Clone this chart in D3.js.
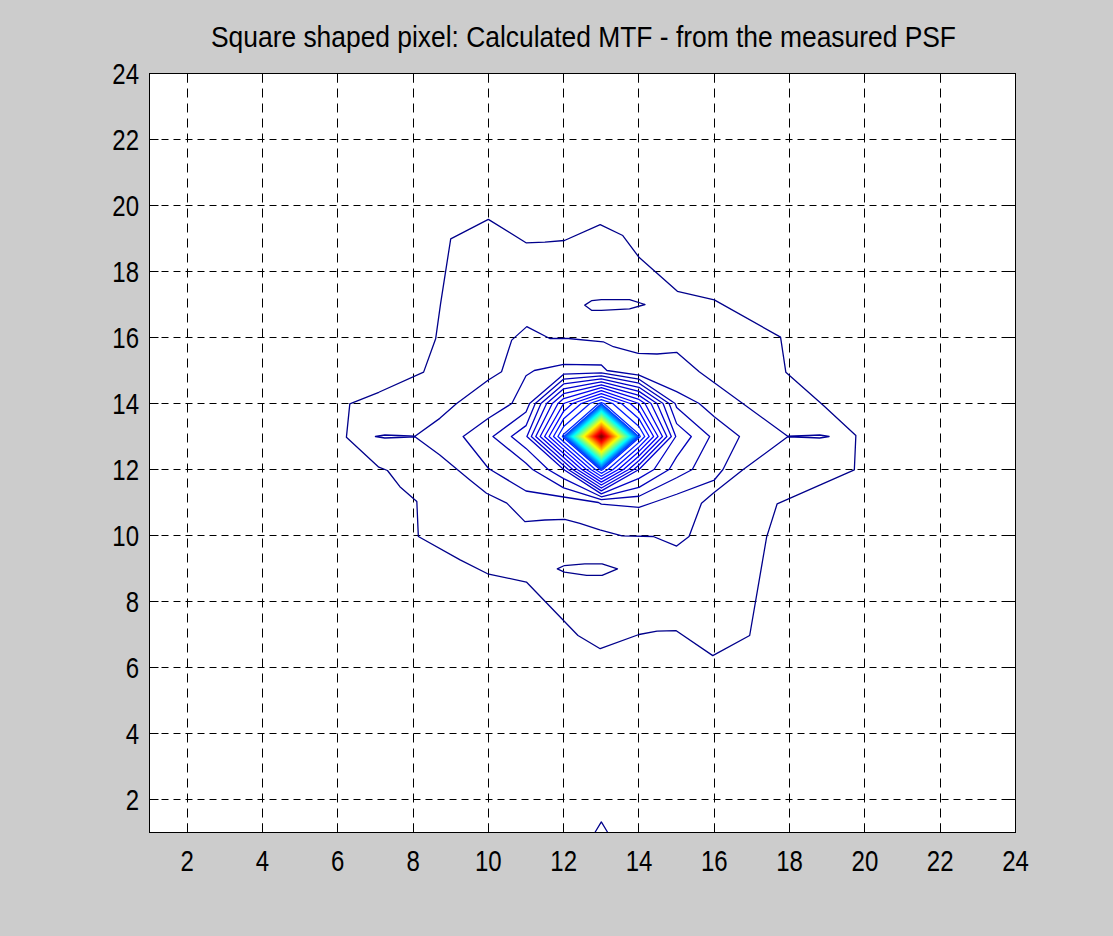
<!DOCTYPE html>
<html>
<head>
<meta charset="utf-8">
<script src="https://cdn.jsdelivr.net/npm/d3@7"></script>
<style>
  html, body { margin: 0; padding: 0; background: #cccccc; }
  svg { display: block; }
  text { font-family: "Liberation Sans", Arial, sans-serif; fill: #000; }
</style>
</head>
<body>
<svg id="chart" width="1113" height="936"></svg>
<script>
// ---- labels and ticks ----
const titleText = "Square shaped pixel: Calculated MTF - from the measured PSF";
const xTicks = [2, 4, 6, 8, 10, 12, 14, 16, 18, 20, 22, 24];
const yTicks = [2, 4, 6, 8, 10, 12, 14, 16, 18, 20, 22, 24];
const xDomain = [1, 24];
const yDomain = [1, 24];

// ---- lowest contour level (1): outer outline, two dips inside it, bump on the lower edge ----
const level1Outer = [
  [9.0, 18.99], [10.0, 19.58], [11.0, 18.87], [11.5, 18.89], [12.02, 18.94], [12.97, 19.42],
  [13.57, 19.09], [14.0, 18.43], [15.02, 17.4], [16.0, 17.14], [17.76, 16.01], [17.9, 14.95],
  [18.9, 13.94], [19.76, 13.03], [19.72, 11.99], [17.67, 10.96], [17.39, 9.95], [16.94, 6.97],
  [15.96, 6.36], [14.98, 7.12], [14.48, 7.1], [14.0, 7.0], [12.97, 6.57], [12.38, 6.97],
  [11.01, 8.59], [9.98, 8.84], [9.25, 9.26], [8.14, 9.97], [8.1, 11.03], [7.65, 11.48],
  [7.32, 11.97], [7.09, 12.07], [6.23, 12.98], [6.32, 13.99], [7.09, 14.34], [8.28, 14.95],
  [8.6, 15.96], [8.73, 17.02]
];
const level1UpperDip = [
  [12.56, 16.98], [12.75, 17.12], [13.0, 17.15], [13.75, 17.15], [14.16, 17.0],
  [13.75, 16.87], [13.0, 16.82], [12.75, 16.82]
];
const level1LowerDip = [
  [11.83, 8.99], [12.02, 9.09], [12.56, 9.14], [13.02, 9.14], [13.43, 8.99],
  [13.02, 8.79], [12.61, 8.79], [12.02, 8.89]
];
const level1EdgeBump = [[12.83, 1.0], [13.0, 1.32], [13.17, 1.0]];

// ---- contour level 2, with its thin spurs along y = 13 ----
const level2Outline = [
  [7.0, 13.0], [7.25, 13.045], [7.6, 13.03], [8.05, 13.01], [8.71, 13.55], [9.15, 13.99],
  [10.0, 14.71], [10.35, 14.96], [10.62, 15.92], [11.02, 16.33], [11.63, 15.97], [12.12, 15.97],
  [13.05, 15.87], [13.32, 15.72], [13.98, 15.52], [14.48, 15.5], [15.0, 15.55], [15.6, 14.96],
  [17.95, 13.01], [18.5, 13.03], [18.8, 13.045], [19.05, 13.0], [18.8, 12.955], [18.5, 12.97],
  [17.95, 12.99], [16.76, 11.99], [15.97, 11.28], [15.66, 10.98], [15.33, 9.97], [15.0, 9.68],
  [14.38, 9.97], [13.55, 9.99], [12.96, 10.17], [12.43, 10.37], [12.03, 10.49], [11.5, 10.47],
  [10.97, 10.42], [10.49, 10.98], [9.95, 11.28], [9.51, 11.68], [8.71, 12.44], [8.05, 12.99],
  [7.6, 12.97], [7.25, 12.955]
];

// ---- central samples (in contour-level units), rows y = 17 .. 9, columns x = 8 .. 18 ----
const coreX = [8, 9, 10, 11, 12, 13, 14, 15, 16, 17, 18];
const coreY = [17, 16, 15, 14, 13, 12, 11, 10, 9];
const coreRows = [
  [1.0, 1.4, 1.7, 1.8, 1.6, 0.8, 1.6, 1.8, 1.7, 1.4, 1.0],
  [1.5, 2.0, 2.2, 2.4, 1.9, 2.0, 2.2, 2.4, 2.3, 1.8, 1.4],
  [1.8, 2.2, 2.6, 2.93, 3.25, 3.2, 1.86, 1.67, 2.0, 1.8, 1.6],
  [1.9, 2.3, 2.39, 3.37, 10.0, 14.3, 10.0, 3.75, 2.5, 2.2, 1.9],
  [2.05, 2.63, 3.75, 5.8, 14.3, 86.0, 14.3, 5.8, 3.75, 2.63, 2.05],
  [1.9, 2.2, 2.97, 3.58, 6.0, 14.3, 7.0, 4.5, 3.3, 2.0, 1.9],
  [1.6, 1.9, 2.3, 2.69, 2.4, 3.05, 3.3, 2.5, 2.36, 1.9, 1.5],
  [1.2, 1.5, 1.8, 2.0, 2.2, 2.0, 1.3, 1.6, 1.8, 1.5, 1.2],
  [1.0, 1.2, 1.4, 1.5, 0.8, 0.9, 1.4, 1.5, 1.4, 1.2, 1.0]
];
// evenly spaced contour levels 1 .. 85; colours run over 0 .. 86
const levelCount = 85;
const colorMax = 86;

// ---- layout ----
const svg = d3.select("#chart");
const plot = { left: 149.5, right: 1015.5, top: 73.5, bottom: 832.5 };
const x = d3.scaleLinear().domain(xDomain).range([plot.left, plot.right]);
const y = d3.scaleLinear().domain(yDomain).range([plot.bottom, plot.top]);
const snap = v => Math.floor(v) + 0.5;

function jet(t) {
  const c = v => Math.max(0, Math.min(1, v));
  const r = c(1.5 - Math.abs(4 * t - 3));
  const g = c(1.5 - Math.abs(4 * t - 2));
  const b = c(1.5 - Math.abs(4 * t - 1));
  return d3.rgb(r * 255, g * 255, b * 255).formatHex();
}
const colorOf = k => jet(k / colorMax);

// plot background
svg.append("rect")
  .attr("x", plot.left).attr("y", plot.top)
  .attr("width", plot.right - plot.left).attr("height", plot.bottom - plot.top)
  .attr("fill", "#ffffff");

svg.append("clipPath").attr("id", "plot-clip")
  .append("rect")
  .attr("x", plot.left).attr("y", plot.top)
  .attr("width", plot.right - plot.left).attr("height", plot.bottom - plot.top);

// dashed grid
const grid = svg.append("g").attr("stroke", "#000").attr("stroke-width", 1).attr("fill", "none");
grid.selectAll("line.gx").data(xTicks.filter(t => t < xDomain[1])).join("line")
  .attr("class", "gx")
  .attr("x1", d => snap(x(d))).attr("x2", d => snap(x(d)))
  .attr("y1", plot.top).attr("y2", plot.bottom)
  .attr("stroke-dasharray", "9,6");
grid.selectAll("line.gy").data(yTicks.filter(t => t < yDomain[1])).join("line")
  .attr("class", "gy")
  .attr("y1", d => snap(y(d))).attr("y2", d => snap(y(d)))
  .attr("x1", plot.left).attr("x2", plot.right)
  .attr("stroke-dasharray", "7,5");

// contours
const contourLayer = svg.append("g").attr("clip-path", "url(#plot-clip)")
  .attr("fill", "none").attr("stroke-width", 1.3).attr("stroke-linejoin", "round");

const closedLine = d3.line().x(d => x(d[0])).y(d => y(d[1])).curve(d3.curveLinearClosed);
const openLine = d3.line().x(d => x(d[0])).y(d => y(d[1]));

[level1Outer, level1UpperDip, level1LowerDip].forEach(ring => {
  contourLayer.append("path").attr("d", closedLine(ring)).attr("stroke", colorOf(1));
});
contourLayer.append("path").attr("d", openLine(level1EdgeBump)).attr("stroke", colorOf(1));
contourLayer.append("path").attr("d", closedLine(level2Outline)).attr("stroke", colorOf(2));

const nx = coreX.length, ny = coreY.length;
const coreValues = coreRows.flat();
const coreLevels = d3.range(3, levelCount + 1);
const coreContours = d3.contours().size([nx, ny]).thresholds(coreLevels)(coreValues);
const toPlot = d3.geoTransform({
  point(cx, cy) {
    this.stream.point(x(coreX[0] + cx - 0.5), y(coreY[0] - (cy - 0.5)));
  }
});
const corePath = d3.geoPath(toPlot);
contourLayer.selectAll("path.core").data(coreContours).join("path")
  .attr("class", "core")
  .attr("d", corePath)
  .attr("stroke", d => colorOf(d.value));

// axes box and inward ticks
const axes = svg.append("g").attr("stroke", "#000").attr("stroke-width", 1).attr("fill", "none");
axes.append("rect")
  .attr("x", plot.left).attr("y", plot.top)
  .attr("width", plot.right - plot.left).attr("height", plot.bottom - plot.top);
const tickLen = 9;
xTicks.forEach(t => {
  const px = snap(x(t));
  axes.append("line").attr("x1", px).attr("x2", px).attr("y1", plot.bottom).attr("y2", plot.bottom - tickLen);
  axes.append("line").attr("x1", px).attr("x2", px).attr("y1", plot.top).attr("y2", plot.top + tickLen);
});
yTicks.forEach(t => {
  const py = snap(y(t));
  axes.append("line").attr("y1", py).attr("y2", py).attr("x1", plot.left).attr("x2", plot.left + tickLen);
  axes.append("line").attr("y1", py).attr("y2", py).attr("x1", plot.right).attr("x2", plot.right - tickLen);
});

// tick labels (tall, narrow glyphs)
svg.append("g").selectAll("text").data(xTicks).join("text")
  .attr("transform", d => `translate(${x(d)},870.5) scale(1,1.22)`)
  .attr("text-anchor", "middle").attr("font-size", 24)
  .text(d => d);
svg.append("g").selectAll("text").data(yTicks).join("text")
  .attr("transform", d => `translate(139,${y(d) + 10}) scale(1,1.22)`)
  .attr("text-anchor", "end").attr("font-size", 24)
  .text(d => d);

// title
svg.append("text")
  .attr("transform", `translate(${(plot.left + plot.right) / 2 + 1},47) scale(1.1,1.2)`)
  .attr("text-anchor", "middle").attr("font-size", 24)
  .text(titleText);
</script>
</body>
</html>
